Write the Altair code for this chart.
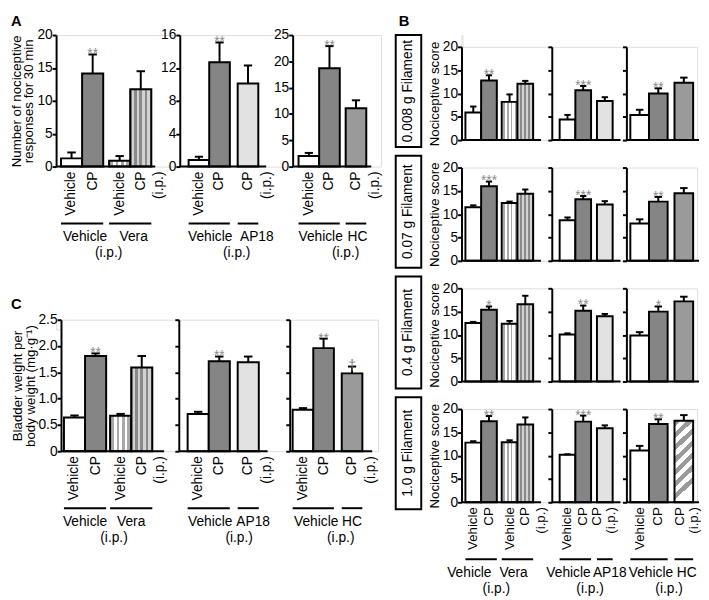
import altair as alt
import pandas as pd

FONT = "Liberation Sans"
STAR = "#8a8a8a"

# ---------------- data ----------------
vera_bar_labels = ["Vehicle", "CP", "Vehicle", "CP"]
three_bar_labels = ["Vehicle", "CP", "CP"]
vera_groups = ["Vehicle", "Vera"]
ap18_groups = ["Vehicle", "AP18"]
hc_groups = ["Vehicle", "HC"]

# Panel A: number of nociceptive responses for 30 min
A_vera_mean = [1.25, 14.15, 0.9, 11.75]
A_vera_sem = [0.9, 2.9, 0.7, 2.75]
A_vera_sig = ["", "**", "", ""]
A_ap18_mean = [0.8, 12.7, 10.1]
A_ap18_sem = [0.4, 2.4, 2.2]
A_ap18_sig = ["", "**", ""]
A_hc_mean = [2.0, 18.7, 11.1]
A_hc_sem = [0.6, 4.2, 1.5]
A_hc_sig = ["", "**", ""]
A_ticks_vera = [0, 5, 10, 15, 20]
A_ticks_ap18 = [0, 4, 8, 12, 16]
A_ticks_hc = [0, 5, 10, 15, 20, 25]

# Panel C: bladder weight per body weight
C_vera_mean = [0.64, 1.81, 0.675, 1.59]
C_vera_sem = [0.04, 0.05, 0.035, 0.22]
C_vera_sig = ["", "**", "", ""]
C_ap18_mean = [0.71, 1.71, 1.69]
C_ap18_sem = [0.04, 0.09, 0.11]
C_ap18_sig = ["", "**", ""]
C_hc_mean = [0.79, 1.96, 1.48]
C_hc_sem = [0.03, 0.18, 0.13]
C_hc_sig = ["", "**", "\u2020"]
C_ticks = [0, 0.5, 1.0, 1.5, 2.0, 2.5]

# Panel B: nociceptive score per filament
B_filaments = ["0.008 g Filament", "0.07 g Filament", "0.4 g Filament", "1.0 g Filament"]
B_vera_mean = [[5.9, 12.8, 8.2, 12.1], [11.5, 16.0, 12.4, 14.4],
               [12.55, 15.4, 12.4, 16.6], [12.8, 17.4, 12.9, 16.7]]
B_vera_sem = [[1.3, 1.1, 1.6, 0.6], [0.4, 1.0, 0.3, 0.9],
              [0.25, 0.7, 0.6, 1.8], [0.3, 1.1, 0.4, 1.5]]
B_vera_sig = ["**", "***", "*", "**"]
B_ap18_mean = [[4.4, 10.7, 8.4], [8.7, 13.2, 12.1], [10.1, 15.2, 14.0], [10.2, 17.3, 15.9]]
B_ap18_sem = [[1.0, 0.9, 0.8], [0.6, 0.7, 0.7], [0.25, 1.1, 0.5], [0.1, 1.3, 0.6]]
B_ap18_sig = ["***", "***", "**", "***"]
B_hc_mean = [[5.4, 10.0, 12.3], [8.0, 12.7, 14.5], [9.9, 15.0, 17.2], [11.1, 16.8, 17.5]]
B_hc_sem = [[1.1, 1.1, 1.1], [0.9, 1.0, 1.1], [0.7, 1.1, 1.0], [1.0, 1.0, 1.2]]
B_hc_sig = ["**", "**", "*", "**"]
B_ticks = [0, 5, 10, 15, 20]


# ---------------- fills ----------------
def vstripes(base, line, n=4, hw=0.06):
    stops = [{"offset": 0, "color": base}]
    for k in range(n):
        c = (k + 0.5) / n
        stops += [{"offset": c - hw, "color": base}, {"offset": c - hw, "color": line},
                  {"offset": c + hw, "color": line}, {"offset": c + hw, "color": base}]
    stops.append({"offset": 1, "color": base})
    return {"gradient": "linear", "x1": 0, "y1": 0, "x2": 1, "y2": 0, "stops": stops}


def dstripes(c1, c2, n=7):
    stops = []
    for k in range(n):
        a = k / n
        b = (k + 0.5) / n
        e = (k + 1) / n
        stops += [{"offset": a, "color": c1}, {"offset": b, "color": c1},
                  {"offset": b, "color": c2}, {"offset": e, "color": c2}]
    return {"gradient": "linear", "x1": 0, "y1": 0, "x2": 0.22, "y2": 1, "stops": stops}


FILLS = {
    "white": "#ffffff",
    "gray": "#858585",
    "vera_veh": vstripes("#ffffff", "#a8a8a8"),
    "vera_cp": vstripes("#8a8a8a", "#d2d2d2"),
    "ap18": "#e2e2e2",
    "hc": "#9a9a9a",
    "hc_diag": dstripes("#9a9a9a", "#ffffff"),
}


def one():
    return alt.Chart(pd.DataFrame({"a": [0]}))


def panel(mean, sem, styles, stars, bar_labels, groups, ymax, ticks, width, height,
          slot, pad_px, gap_px, xend_px, ylabels=True, ytitle=None, label_expr=None,
          bottom=False, lab_dx=None, ip_px=19, grp_dx=(0, 0, 0), lab_fs=14, extra=()):
    n = len(mean)
    pad, gap = pad_px / slot, gap_px / slot
    x0 = [pad + i + (gap if i >= 2 else 0) for i in range(n)]
    xc = [a + 0.5 for a in x0]
    df = pd.DataFrame({
        "x0": x0, "x1": [a + 1 for a in x0], "xc": xc,
        "cl": [a + 0.3 for a in x0], "cr": [a + 0.7 for a in x0],
        "v": mean, "top": [m + s for m, s in zip(mean, sem)], "zero": [0] * n,
        "style": styles, "star": stars,
    })
    xs = alt.Scale(domain=[0, width / slot], nice=False, zero=False)
    ys = alt.Scale(domain=[0, ymax], nice=False)
    kw = dict(values=ticks, labels=ylabels, grid=False, domainColor="black", domainWidth=2,
              tickColor="black", tickWidth=2, tickSize=4, labelFont=FONT, labelFontSize=14,
              labelColor="black", labelPadding=0, titleFont=FONT, titleFontSize=13.5,
              titleFontWeight="normal", titleColor="black", titlePadding=1, titleLineHeight=13)
    if label_expr:
        kw["labelExpr"] = label_expr
    yaxis = alt.Axis(title=ytitle if ytitle else "", **kw)

    def X(f):
        return alt.X(f, type="quantitative", scale=xs, axis=None)

    def Y(f):
        return alt.Y(f, type="quantitative", scale=ys, axis=yaxis)

    base = alt.Chart(df)
    layers = list(extra)
    for s in dict.fromkeys(styles):
        layers.append(base.transform_filter(alt.datum.style == s)
                      .mark_bar(fill=FILLS[s], stroke="black", strokeWidth=2)
                      .encode(x=X("x0"), x2=alt.X2("x1"), y=Y("v"), y2=alt.Y2("zero")))
    layers.append(base.mark_rule(color="black", strokeWidth=2)
                  .encode(x=X("xc"), y=Y("v"), y2=alt.Y2("top")))
    layers.append(base.mark_rule(color="black", strokeWidth=2)
                  .encode(x=X("cl"), x2=alt.X2("cr"), y=Y("top")))
    layers.append(base.mark_text(font=FONT, fontSize=14, color=STAR, baseline="alphabetic", dy=4)
                  .encode(x=X("xc"), y=Y("top"), text="star:N"))
    end = x0[-1] + 1 + xend_px / slot
    bl = pd.DataFrame({"a": [0.0], "b": [end], "z": [0.0]})
    layers.append(alt.Chart(bl).mark_rule(color="black", strokeWidth=2)
                  .encode(x=X("a"), x2=alt.X2("b"), y=Y("z")))
    if bottom:
        lab_dx = lab_dx or [0] * n
        lx = [c + d / slot for c, d in zip(xc, lab_dx)]
        lab = pd.DataFrame({"x": lx + [lx[-1] + ip_px / slot], "t": bar_labels + ["(i.p.)"]})
        layers.append(alt.Chart(lab).mark_text(font=FONT, fontSize=lab_fs, angle=270, align="right",
                                               baseline="middle", color="black")
                      .encode(x=X("x"), y=alt.value(height + 5), text="t:N"))
        ul = pd.DataFrame({"a": [x0[0], x0[2]], "b": [x0[1] + 1, x0[-1] + 1]})
        layers.append(alt.Chart(ul).mark_rule(color="black", strokeWidth=2)
                      .encode(x=X("a"), x2=alt.X2("b"), y=alt.value(height + 58)))
        g1 = (x0[0] + x0[1] + 1) / 2 + grp_dx[0] / slot
        g2 = (x0[2] + x0[-1] + 1) / 2 + grp_dx[2] / slot
        gi = (x0[1] + 1 + x0[2]) / 2 + grp_dx[1] / slot
        gl = pd.DataFrame({"x": [g1, g2], "t": groups})
        layers.append(alt.Chart(gl).mark_text(font=FONT, fontSize=14, baseline="middle", color="black")
                      .encode(x=X("x"), y=alt.value(height + 72), text="t:N"))
        ipd = pd.DataFrame({"x": [gi], "t": ["(i.p.)"]})
        layers.append(alt.Chart(ipd).mark_text(font=FONT, fontSize=14, baseline="middle", color="black")
                      .encode(x=X("x"), y=alt.value(height + 88), text="t:N"))
    return alt.layer(*layers).properties(width=width, height=height)


def letter(t, x, y):
    return one().mark_text(font=FONT, fontSize=15, fontWeight="bold", align="left",
                           baseline="alphabetic", color="black").encode(
        x=alt.value(x), y=alt.value(y), text=alt.value(t))


def spacer(w, h):
    return one().mark_point(opacity=0).encode(x=alt.value(0), y=alt.value(0)).properties(width=w, height=h)


# ---------------- panel A ----------------
HA = 134
A1 = panel(A_vera_mean, A_vera_sem, ["white", "gray", "vera_veh", "vera_cp"], A_vera_sig,
           vera_bar_labels, vera_groups, 20, A_ticks_vera, 126, HA, 21.5, 5, 6, 4,
           ytitle=["Number of nociceptive", "responses for 30 min"], bottom=True,
           grp_dx=(3, 2.5, 3.5), extra=[letter("A", -46, -9)])
A2 = panel(A_ap18_mean, A_ap18_sem, ["white", "gray", "ap18"], A_ap18_sig,
           three_bar_labels, ap18_groups, 16, A_ticks_ap18, 115, HA, 21, 9, 8, 8,
           bottom=True, grp_dx=(1, 3, 9))
A3 = panel(A_hc_mean, A_hc_sem, ["white", "gray", "hc"], A_hc_sig,
           three_bar_labels, hc_groups, 25, A_ticks_hc, 90, HA, 21, 6, 6, 5,
           bottom=True, grp_dx=(1.5, 3, 1.5))
A_row = alt.hconcat(A1, A2, A3, spacing=0, bounds="flush")

# ---------------- panel C ----------------
HC_ = 134
c_expr = "datum.value == 0 ? '0' : format(datum.value, '.1f')"
C1 = panel(C_vera_mean, C_vera_sem, ["white", "gray", "vera_veh", "vera_cp"], C_vera_sig,
           vera_bar_labels, vera_groups, 2.5, C_ticks, 120, HC_, 21.5, 3, 4, 12,
           ytitle=["Bladder weight per", "body weight (mg\u00b7g\u207b\u00b9)"], label_expr=c_expr,
           bottom=True, grp_dx=(0, 6, 0), extra=[letter("C", -51, -11)])
C2 = panel(C_ap18_mean, C_ap18_sem, ["white", "gray", "ap18"], C_ap18_sig,
           three_bar_labels, ap18_groups, 2.5, C_ticks, 113, HC_, 21.5, 9, 8, 9,
           ylabels=False, bottom=True, grp_dx=(1.5, 5.5, 5))
C3 = panel(C_hc_mean, C_hc_sem, ["white", "gray", "hc"], C_hc_sig,
           three_bar_labels, hc_groups, 2.5, C_ticks, 90, HC_, 21, 3, 8, 10,
           ylabels=False, bottom=True, grp_dx=(3, 3, 0))
C_row = alt.hconcat(spacer(5, 10), C1, C2, C3, spacing=0, bounds="flush")

# nested groups count as zero-size under "flush": offsets come from spacing
left = alt.vconcat(A_row, C_row, spacing=290, bounds="flush")

# ---------------- panel B ----------------
HB = 95
b_rows = []
for r in range(4):
    last = r == 3
    box = one().mark_rect(fillOpacity=0, stroke="black", strokeWidth=2).encode(
        x=alt.value(-67), x2=alt.value(-41), y=alt.value(-12), y2=alt.value(HB + 7))
    ftxt = one().mark_text(font=FONT, fontSize=14, angle=270, align="center", baseline="middle",
                           color="black").encode(
        x=alt.value(-54), y=alt.value((HB - 5) / 2), text=alt.value(B_filaments[r]))
    ext = [box, ftxt] + ([letter("B", -64, -21)] if r == 0 else [])
    b1 = panel(B_vera_mean[r], B_vera_sem[r], ["white", "gray", "vera_veh", "vera_cp"],
               ["", B_vera_sig[r], "", ""], vera_bar_labels, vera_groups, 20, B_ticks,
               92, HB, 16, 4, 5, 8, ytitle="Nociceptive score", bottom=last,
               ip_px=16, grp_dx=(-12, -3, -4), lab_fs=13.5, extra=ext)
    b2 = panel(B_ap18_mean[r], B_ap18_sem[r], ["white", "gray", "ap18"],
               ["", B_ap18_sig[r], ""], three_bar_labels, ap18_groups, 20, B_ticks,
               76, HB, 16, 8, 6, 8, ylabels=False, bottom=last, lab_dx=[0, 0, -8],
               ip_px=14, grp_dx=(-7, -4, 5), lab_fs=13.5)
    b3 = panel(B_hc_mean[r], B_hc_sem[r], ["white", "gray", "hc_diag" if last else "hc"],
               ["", B_hc_sig[r], ""], three_bar_labels, hc_groups, 20, B_ticks,
               72, HB, 19, 4, 7, 6, ylabels=False, bottom=last, lab_dx=[0, 0, -4],
               ip_px=14, grp_dx=(2, -2, 3), lab_fs=13.5)
    b_rows.append(alt.hconcat(b1, b2, b3, spacing=0, bounds="flush"))

B_block = alt.vconcat(*b_rows, spacing=123, bounds="flush")
right = alt.vconcat(spacer(1, 12), B_block, spacing=0, bounds="flush")

chart = alt.hconcat(left, right, spacing=413, bounds="flush").properties(
    padding={"left": 0, "top": 0, "right": 0, "bottom": 0}
).configure_view(stroke=None).configure(font=FONT)

chart.save("out.html", embed_options={"renderer": "svg", "actions": False})
